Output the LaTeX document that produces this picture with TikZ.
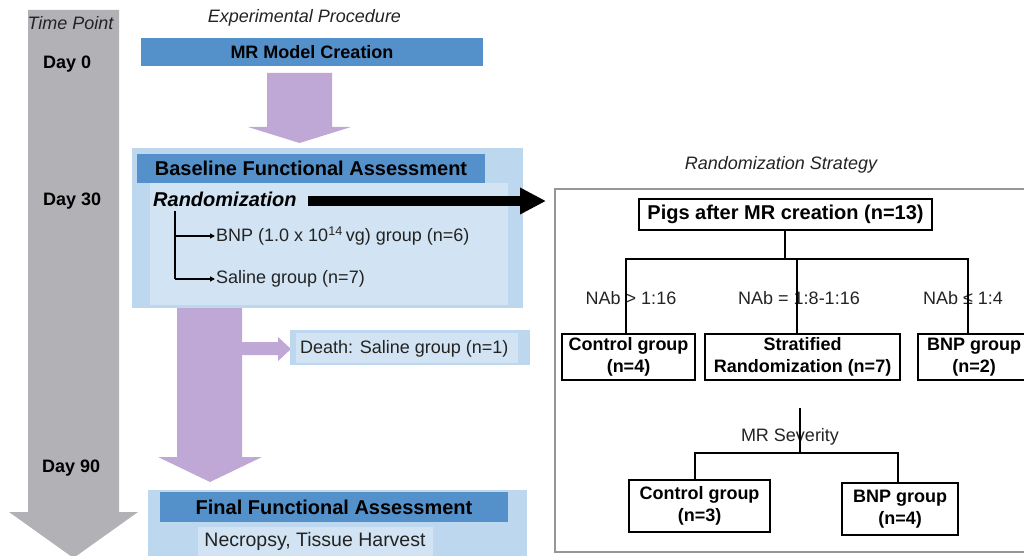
\documentclass[tikz,border=0pt]{standalone}
\usepackage{fontspec}
\setmainfont{Liberation Sans}
\usetikzlibrary{arrows.meta,calc}
\definecolor{tlgray}{RGB}{178,178,182}
\definecolor{bardark}{RGB}{84,145,203}
\definecolor{boxouter}{RGB}{189,215,238}
\definecolor{boxinner}{RGB}{210,228,243}
\definecolor{lilac}{RGB}{192,168,214}
\definecolor{panelgray}{RGB}{150,150,150}
\definecolor{txtgray}{RGB}{35,35,35}
\begin{document}
\begin{tikzpicture}[x=1pt,y=-1pt,
  reg/.style={font=\fontsize{18}{21}\selectfont, text=txtgray, inner sep=0pt},
  ital/.style={font=\fontsize{18}{21}\selectfont\itshape, text=txtgray, inner sep=0pt},
  bld/.style={font=\fontsize{18}{21}\selectfont\bfseries, inner sep=0pt},
  bar/.style={fill=bardark, inner sep=0pt, font=\fontsize{20}{23}\selectfont\bfseries},
  tbox/.style={draw, line width=1.6pt, inner sep=0pt, align=center, font=\fontsize{18}{22}\selectfont\bfseries},
  tline/.style={line width=1.5pt},
  smallarrow/.style={line width=1.5pt, -{Triangle[length=5pt,width=5pt]}},
]
\useasboundingbox (0,0) rectangle (1024,556);
\clip (0,0) rectangle (1024,556);

% ---------- time line ----------
\fill[tlgray] (28,10) -- (119,10) -- (119,512) -- (138,512) -- (73.5,558) -- (9,512) -- (28,512) -- cycle;
\node[ital] (tp) at (70.5,23) {Time Point};
\node[bld, anchor=west] (d0) at (43,64) {Day 0};
\node[bld, anchor=west] (d30) at (43,201) {Day 30};
\node[bld, anchor=west] (d90) at (42,468) {Day 90};

% ---------- experimental procedure ----------
\node[ital] (ep) at (304.5,18) {Experimental Procedure};
\node[bar, minimum width=342pt, minimum height=28pt, font=\fontsize{18}{21}\selectfont\bfseries] (mr) at (312,52) {MR Model Creation};

\fill[lilac] (267,73) -- (332,73) -- (332,127) -- (351,127) -- (299.5,143) -- (248,127) -- (267,127) -- cycle;

% baseline box
\fill[boxouter] (132,148) rectangle (523,308);
\fill[boxinner] (150,183) rectangle (508,305);
\node[bar, minimum width=348pt, minimum height=29pt] (base) at (311,168.5) {Baseline Functional Assessment};
\node[anchor=west, inner sep=0pt, font=\fontsize{20}{23}\selectfont\bfseries\itshape] (rand) at (153,199) {Randomization};

\node[reg, anchor=west] (bnp) at (216,236) {BNP (1.0 x 10\textsuperscript{14}\,vg) group (n=6)};
\node[reg, anchor=west] (sal) at (216,279) {Saline group (n=7)};
\coordinate (rtop) at (175,211);
\draw[smallarrow] (rtop |- bnp.west) -- ([xshift=-1pt]bnp.west);
\draw[smallarrow] (rtop |- sal.west) -- ([xshift=-1pt]sal.west);
\draw[tline] (rtop) -- (rtop |- sal.west);

% big black arrow to randomization strategy
\coordinate (bigA) at (308,201);
\coordinate (bigB) at (546,201);
\draw[line width=10pt, -{Triangle[length=26pt,width=25pt]}] (bigA) -- (bigB);

% second lilac arrow with side branch
\fill[lilac] (177,308) -- (242,308) -- (242,342) -- (278,342) -- (278,337) -- (291,349) -- (278,361) -- (278,355) -- (242,355) -- (242,457) -- (262,457) -- (210,482) -- (158,457) -- (177,457) -- cycle;

% death box
\fill[boxouter] (290,330) rectangle (530,365);
\fill[boxinner] (296,333) rectangle (518,363);
\node[reg, anchor=west] (death) at (300,349) {Death: Saline group (n=1)};

% final box
\fill[boxouter] (148,490) rectangle (527,560);
\node[bar, minimum width=348pt, minimum height=30pt] (final) at (334,507) {Final Functional Assessment};
\fill[boxinner] (198,527) rectangle (433,560);
\node[reg, font=\fontsize{19.5}{22}\selectfont] (necro) at (315,541) {Necropsy, Tissue Harvest};

% ---------- randomization strategy ----------
\node[ital] (rs) at (781,165) {Randomization Strategy};
\draw[panelgray, line width=1.2pt] (1030,189) -- (555,189) -- (555,552) -- (1030,552);

\node[tbox, minimum width=293pt, minimum height=31pt, font=\fontsize{20}{23}\selectfont\bfseries] (pigs) at (785.5,214.5) {Pigs after MR creation (n=13)};
\node[tbox, minimum width=133pt, minimum height=46pt] (c4) at (628.5,357) {Control group\\(n=4)};
\node[tbox, minimum width=195pt, minimum height=46pt] (sr) at (802.5,357) {Stratified\\Randomization (n=7)};
\node[tbox, minimum width=112pt, minimum height=46pt] (b2) at (974,357) {BNP group\\(n=2)};

\node[reg] (l1) at (631,298) {NAb > 1:16};
\node[reg] (l2) at (799,298) {NAb = 1:8-1:16};
\node[reg] (l3) at (963,298) {NAb ≤ 1:4};

\coordinate (hub) at (785,259);
\coordinate (cx) at (626,0);
\coordinate (sx) at (797,0);
\coordinate (bx) at (968,0);
\draw[tline] (hub |- pigs.south) -- (hub);
\draw[tline] (cx |- c4.north) -- (cx |- hub) -- (bx |- hub) -- (bx |- b2.north);
\draw[tline] (sx |- hub) -- (sx |- sr.north);

% MR severity split
\node[reg] (sev) at (790,437) {MR Severity};
\node[tbox, minimum width=141pt, minimum height=52pt] (c3) at (699.5,506) {Control group\\(n=3)};
\node[tbox, minimum width=116pt, minimum height=52pt] (b4) at (900,509) {BNP group\\(n=4)};
\coordinate (sevtop) at (800,408);
\coordinate (sevhub) at (800,453);
\coordinate (c3x) at (695,0);
\coordinate (b4x) at (898,0);
\draw[tline] (sevtop) -- (sevhub);
\draw[tline] (c3x |- c3.north) -- (c3x |- sevhub) -- (b4x |- sevhub) -- (b4x |- b4.north);
\end{tikzpicture}
\end{document}
